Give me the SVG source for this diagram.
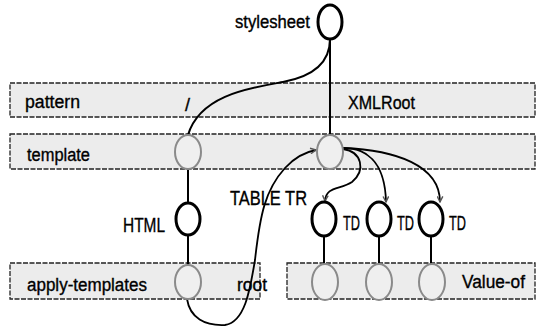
<svg xmlns="http://www.w3.org/2000/svg" width="540" height="328" viewBox="0 0 540 328">
<style>
.band{fill:#ececec;stroke:#222;stroke-width:1.3;stroke-dasharray:5 1.5}
.dark{fill:#fff;stroke:#000;stroke-width:3}
.light{fill:#efefef;stroke:#8a8a8a;stroke-width:2}
.edge{fill:none;stroke:#000;stroke-width:2}
.arr{fill:none;stroke:#000;stroke-width:1.8;marker-end:url(#ah)}
text{font-family:"Liberation Sans",Arial,sans-serif;font-size:18px;fill:#000;stroke:#000;stroke-width:0.35}
.cap{font-size:20px}
</style>
<defs>
<marker id="ah" viewBox="0 0 10 10" refX="9" refY="5" markerWidth="7" markerHeight="7" markerUnits="userSpaceOnUse" orient="auto">
<path d="M1,1 L9,5 L1,9" fill="none" stroke="#555" stroke-width="2"/>
</marker>
</defs>
<g id="bands">
<rect class="band" x="10" y="83" width="525" height="34"/>
<rect class="band" x="10" y="134" width="525" height="35"/>
<rect class="band" x="10" y="263" width="250" height="36"/>
<rect class="band" x="287" y="263" width="248" height="36"/>
<text x="25" y="108" textLength="55" lengthAdjust="spacingAndGlyphs">pattern</text>
<text x="185" y="111">/</text>
<text x="348" y="109" textLength="67" lengthAdjust="spacingAndGlyphs">XMLRoot</text>
<text x="27" y="161" textLength="63" lengthAdjust="spacingAndGlyphs">template</text>
<text x="27" y="291" textLength="120" lengthAdjust="spacingAndGlyphs">apply-templates</text>
<text x="237" y="291" textLength="30" lengthAdjust="spacingAndGlyphs">root</text>
<text x="462" y="288" textLength="63" lengthAdjust="spacingAndGlyphs">Value-of</text>
</g>
<g id="connectors">
<path class="edge" d="M330,39 C330,62 315,76 283,82 C250,88 200,95 188,135"/>
<path class="edge" d="M330,39 L330,135"/>
<path class="edge" d="M188,169 L188,203"/>
<path class="edge" d="M188,235 L188,265"/>
<path class="arr" d="M187,299 C190,318 205,326 225,325 C245,322 250,290 255,260 C260,215 265,190 285,168 C295,157 305,152 316,150"/>
<path class="arr" d="M343,149 C362,152 366,170 352,182 C340,190 326,186 325,201"/>
<path class="arr" d="M343,148 C365,148 385,160 386,202"/>
<path class="arr" d="M343,148 C395,150 440,165 440,202"/>
<path class="edge" d="M324,236 L324,264"/>
<path class="edge" d="M379,236 L379,264"/>
<path class="edge" d="M431,236 L431,264"/>
</g>
<g id="stylesheet"><ellipse class="dark" cx="330" cy="22" rx="12" ry="17"/><text x="235" y="28" textLength="75" lengthAdjust="spacingAndGlyphs">stylesheet</text></g>
<g id="template-root"><ellipse class="light" cx="188" cy="152" rx="13" ry="17"/></g>
<g id="template-xmlroot"><ellipse class="light" cx="330" cy="152" rx="13" ry="17"/></g>
<g id="html"><ellipse class="dark" cx="188" cy="219" rx="12" ry="16"/><text class="cap" x="123" y="232" textLength="42" lengthAdjust="spacingAndGlyphs">HTML</text></g>
<g id="apply"><ellipse class="light" cx="188" cy="282" rx="13" ry="17"/></g>
<g id="table-tr"><text class="cap" x="230" y="205" textLength="77" lengthAdjust="spacingAndGlyphs" style="font-size:21px">TABLE TR</text></g>
<g id="td1"><ellipse class="dark" cx="324" cy="219" rx="12" ry="17"/><text class="cap" x="343" y="230" textLength="17" lengthAdjust="spacingAndGlyphs">TD</text></g>
<g id="td2"><ellipse class="dark" cx="379" cy="219" rx="12" ry="17"/><text class="cap" x="397" y="230" textLength="17" lengthAdjust="spacingAndGlyphs">TD</text></g>
<g id="td3"><ellipse class="dark" cx="431" cy="219" rx="12" ry="17"/><text class="cap" x="449" y="230" textLength="17" lengthAdjust="spacingAndGlyphs">TD</text></g>
<g id="value1"><ellipse class="light" cx="325" cy="282" rx="13" ry="18"/></g>
<g id="value2"><ellipse class="light" cx="379" cy="282" rx="13" ry="18"/></g>
<g id="value3"><ellipse class="light" cx="432" cy="282" rx="13" ry="18"/></g>
</svg>
